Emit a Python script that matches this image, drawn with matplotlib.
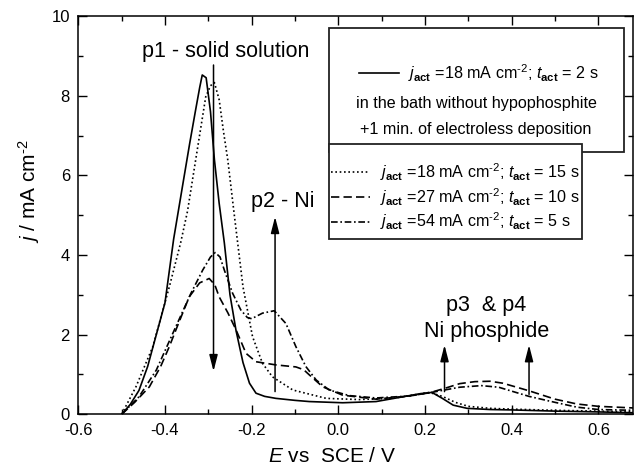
"""Anodic stripping voltammograms of Ni-P deposits after different activation steps."""
import matplotlib
matplotlib.use("Agg")
import matplotlib.pyplot as plt
from matplotlib.lines import Line2D
from matplotlib.patches import Rectangle
import matplotlib.ticker as tkr

plt.rcParams['font.family'] = ['Liberation Sans', 'DejaVu Sans']
plt.rcParams['mathtext.fontset'] = 'custom'
plt.rcParams['mathtext.rm'] = 'Liberation Sans'
plt.rcParams['mathtext.it'] = 'Liberation Sans:italic'
plt.rcParams['mathtext.bf'] = 'Liberation Sans:bold'
plt.rcParams['axes.unicode_minus'] = False

# j_act = 18 mA cm-2, t_act = 2 s, bath without hypophosphite + 1 min electroless
e_2s = [-0.50, -0.48, -0.46, -0.44, -0.42, -0.40, -0.38, -0.36, -0.343, -0.33,
        -0.32, -0.314, -0.305, -0.295, -0.286, -0.275, -0.263, -0.25, -0.236,
        -0.22, -0.205, -0.19, -0.17, -0.144, -0.10, -0.067, 0.01, 0.087, 0.149,
        0.19, 0.216, 0.24, 0.265, 0.297, 0.35, 0.40, 0.50, 0.60, 0.68]
j_2s = [0.0, 0.25, 0.6, 1.2, 2.0, 2.8, 4.4, 5.7, 6.8, 7.6,
        8.2, 8.52, 8.45, 7.6, 6.4, 5.3, 4.3, 3.0, 2.1,
        1.3, 0.78, 0.53, 0.45, 0.40, 0.35, 0.32, 0.29, 0.32, 0.44,
        0.52, 0.55, 0.40, 0.23, 0.15, 0.12, 0.11, 0.08, 0.06, 0.04]

# j_act = 18 mA cm-2, t_act = 15 s
e_15s = [-0.50, -0.467, -0.428, -0.39, -0.364, -0.348, -0.329, -0.306, -0.295,
         -0.286, -0.275, -0.265, -0.255, -0.24, -0.23, -0.22, -0.198, -0.175,
         -0.152, -0.105, -0.028, 0.048, 0.125, 0.21, 0.24, 0.27, 0.30, 0.35,
         0.40, 0.50, 0.60, 0.68]
j_15s = [0.0, 0.69, 1.7, 3.2, 4.3, 5.1, 6.4, 7.97, 8.25,
         8.33, 7.9, 7.1, 6.38, 5.0, 4.1, 3.2, 1.95, 1.28,
         0.94, 0.61, 0.40, 0.37, 0.40, 0.55, 0.45, 0.30, 0.20, 0.15,
         0.13, 0.10, 0.08, 0.06]

# j_act = 27 mA cm-2, t_act = 10 s
e_10s = [-0.50, -0.47, -0.436, -0.41, -0.39, -0.37, -0.344, -0.32, -0.298,
         -0.285, -0.275, -0.255, -0.236, -0.213, -0.19, -0.144, -0.098, -0.08,
         -0.067, -0.036, 0.01, 0.087, 0.164, 0.21, 0.245, 0.28, 0.315, 0.35,
         0.38, 0.44, 0.50, 0.55, 0.60, 0.68]
j_10s = [0.0, 0.3, 0.69, 1.2, 1.7, 2.25, 2.95, 3.3, 3.41,
         3.25, 2.95, 2.55, 2.12, 1.53, 1.32, 1.24, 1.19, 1.12,
         0.99, 0.69, 0.48, 0.38, 0.46, 0.54, 0.65, 0.77, 0.82, 0.83,
         0.78, 0.59, 0.38, 0.26, 0.20, 0.16]

# j_act = 54 mA cm-2, t_act = 5 s
e_5s = [-0.50, -0.46, -0.42, -0.375, -0.34, -0.313, -0.295, -0.284, -0.273,
        -0.263, -0.244, -0.225, -0.21, -0.20, -0.175, -0.148, -0.121, -0.098,
        -0.075, -0.051, -0.021, 0.025, 0.087, 0.164, 0.21, 0.245, 0.28, 0.33,
        0.37, 0.44, 0.50, 0.55, 0.60, 0.68]
j_5s = [0.0, 0.44, 1.11, 2.2, 3.04, 3.62, 3.95, 4.06, 3.95,
        3.62, 3.04, 2.62, 2.43, 2.40, 2.54, 2.6, 2.28, 1.70,
        1.2, 0.86, 0.61, 0.47, 0.41, 0.46, 0.54, 0.61, 0.68, 0.72,
        0.68, 0.45, 0.30, 0.18, 0.12, 0.10]

x_ticks = [-0.6, -0.4, -0.2, 0.0, 0.2, 0.4, 0.6]
x_tick_labels = ["-0.6", "-0.4", "-0.2", "0.0", "0.2", "0.4", "0.6"]
y_ticks = [0, 2, 4, 6, 8, 10]

cm2 = r"cm$^{\text{-2}}$"
lbl_2s = r"$j_{\mathbf{act}}$ =18 mA " + cm2 + r"; $t_{\mathbf{act}}$ = 2 s"
lbl_15s = r"$j_{\mathbf{act}}$ =18 mA " + cm2 + r"; $t_{\mathbf{act}}$ = 15 s"
lbl_10s = r"$j_{\mathbf{act}}$ =27 mA " + cm2 + r"; $t_{\mathbf{act}}$ = 10 s"
lbl_5s = r"$j_{\mathbf{act}}$ =54 mA " + cm2 + r"; $t_{\mathbf{act}}$ = 5 s"

st_solid = "-"
st_dot = (0, (1, 1.6))
st_dash = (0, (5, 2.5))
st_dashdot = (0, (4, 1.6, 1, 1.6))
lw = 1.2

fig = plt.figure(figsize=(6.34, 4.70), dpi=100)
ax = fig.add_axes([0.1235, 0.1185, 0.875, 0.8474])

ax.plot(e_2s, j_2s, color="black", lw=lw, ls=st_solid)
ax.plot(e_15s, j_15s, color="black", lw=lw, ls=st_dot)
ax.plot(e_10s, j_10s, color="black", lw=lw, ls=st_dash)
ax.plot(e_5s, j_5s, color="black", lw=lw, ls=st_dashdot)

ax.set_xlim(-0.6, 0.68)
ax.set_ylim(0, 10)
ax.set_xticks(x_ticks)
ax.set_xticklabels(x_tick_labels)
ax.set_yticks(y_ticks)
ax.xaxis.set_minor_locator(tkr.MultipleLocator(0.1))
ax.yaxis.set_minor_locator(tkr.MultipleLocator(1))
ax.tick_params(which="both", direction="in", top=True, right=True,
               labelsize=12, width=1.0, pad=6)
ax.tick_params(which="major", length=6.5)
ax.tick_params(which="minor", length=3.5)
for sp in ax.spines.values():
    sp.set_linewidth(1.1)

ax.set_xlabel(r"$E$ vs  SCE / V", fontsize=15)
ax.set_ylabel(r"$j$ / mA " + cm2, fontsize=15)
ax.xaxis.set_label_coords(0.457, -0.083)
ax.yaxis.set_label_coords(-0.066, 0.56)

# peak labels and arrows
ann_fs = 15.5
ax.text(-0.26, 9.12, "p1 - solid solution", fontsize=ann_fs, ha="center", va="center")
ax.text(-0.128, 5.34, "p2 - Ni", fontsize=ann_fs, ha="center", va="center")
ax.text(0.341, 2.74, "p3  & p4", fontsize=ann_fs, ha="center", va="center")
ax.text(0.341, 2.07, "Ni phosphide", fontsize=ann_fs, ha="center", va="center")

arr = dict(arrowstyle="-|>,head_width=0.18,head_length=0.7", color="black",
           lw=1.1, shrinkA=0, shrinkB=0, mutation_scale=14)
ax.annotate("", xy=(-0.288, 1.08), xytext=(-0.288, 8.77), arrowprops=arr)
ax.annotate("", xy=(-0.146, 4.96), xytext=(-0.146, 0.57), arrowprops=arr)
ax.annotate("", xy=(0.245, 1.74), xytext=(0.245, 0.57), arrowprops=arr)
ax.annotate("", xy=(0.44, 1.74), xytext=(0.44, 0.50), arrowprops=arr)

# first key box
box_fs = 11.6
ax.add_patch(Rectangle((-0.022, 6.59), 0.682, 3.11, facecolor="white",
                       edgecolor="#222222", lw=1.3, zorder=5))
ax.add_line(Line2D([0.048, 0.141], [8.56, 8.56], color="black", lw=lw,
                   ls=st_solid, zorder=6))
ax.text(0.16, 8.56, lbl_2s, fontsize=box_fs, ha="left", va="center", zorder=6)
ax.text(0.318, 7.81, "in the bath without hypophosphite", fontsize=box_fs,
        ha="center", va="center", zorder=6)
ax.text(0.318, 7.14, "+1 min. of electroless deposition", fontsize=box_fs,
        ha="center", va="center", zorder=6)

# second key box
ax.add_patch(Rectangle((-0.022, 4.39), 0.585, 2.39, facecolor="white",
                       edgecolor="#222222", lw=1.3, zorder=7))
rows = [(6.09, st_dot, lbl_15s), (5.46, st_dash, lbl_10s), (4.84, st_dashdot, lbl_5s)]
for yy, st, lbl in rows:
    ax.add_line(Line2D([-0.016, 0.072], [yy, yy], color="black", lw=lw,
                       ls=st, zorder=8))
    ax.text(0.095, yy, lbl, fontsize=box_fs, ha="left", va="center", zorder=8)

fig.savefig("out.png", dpi=100)
